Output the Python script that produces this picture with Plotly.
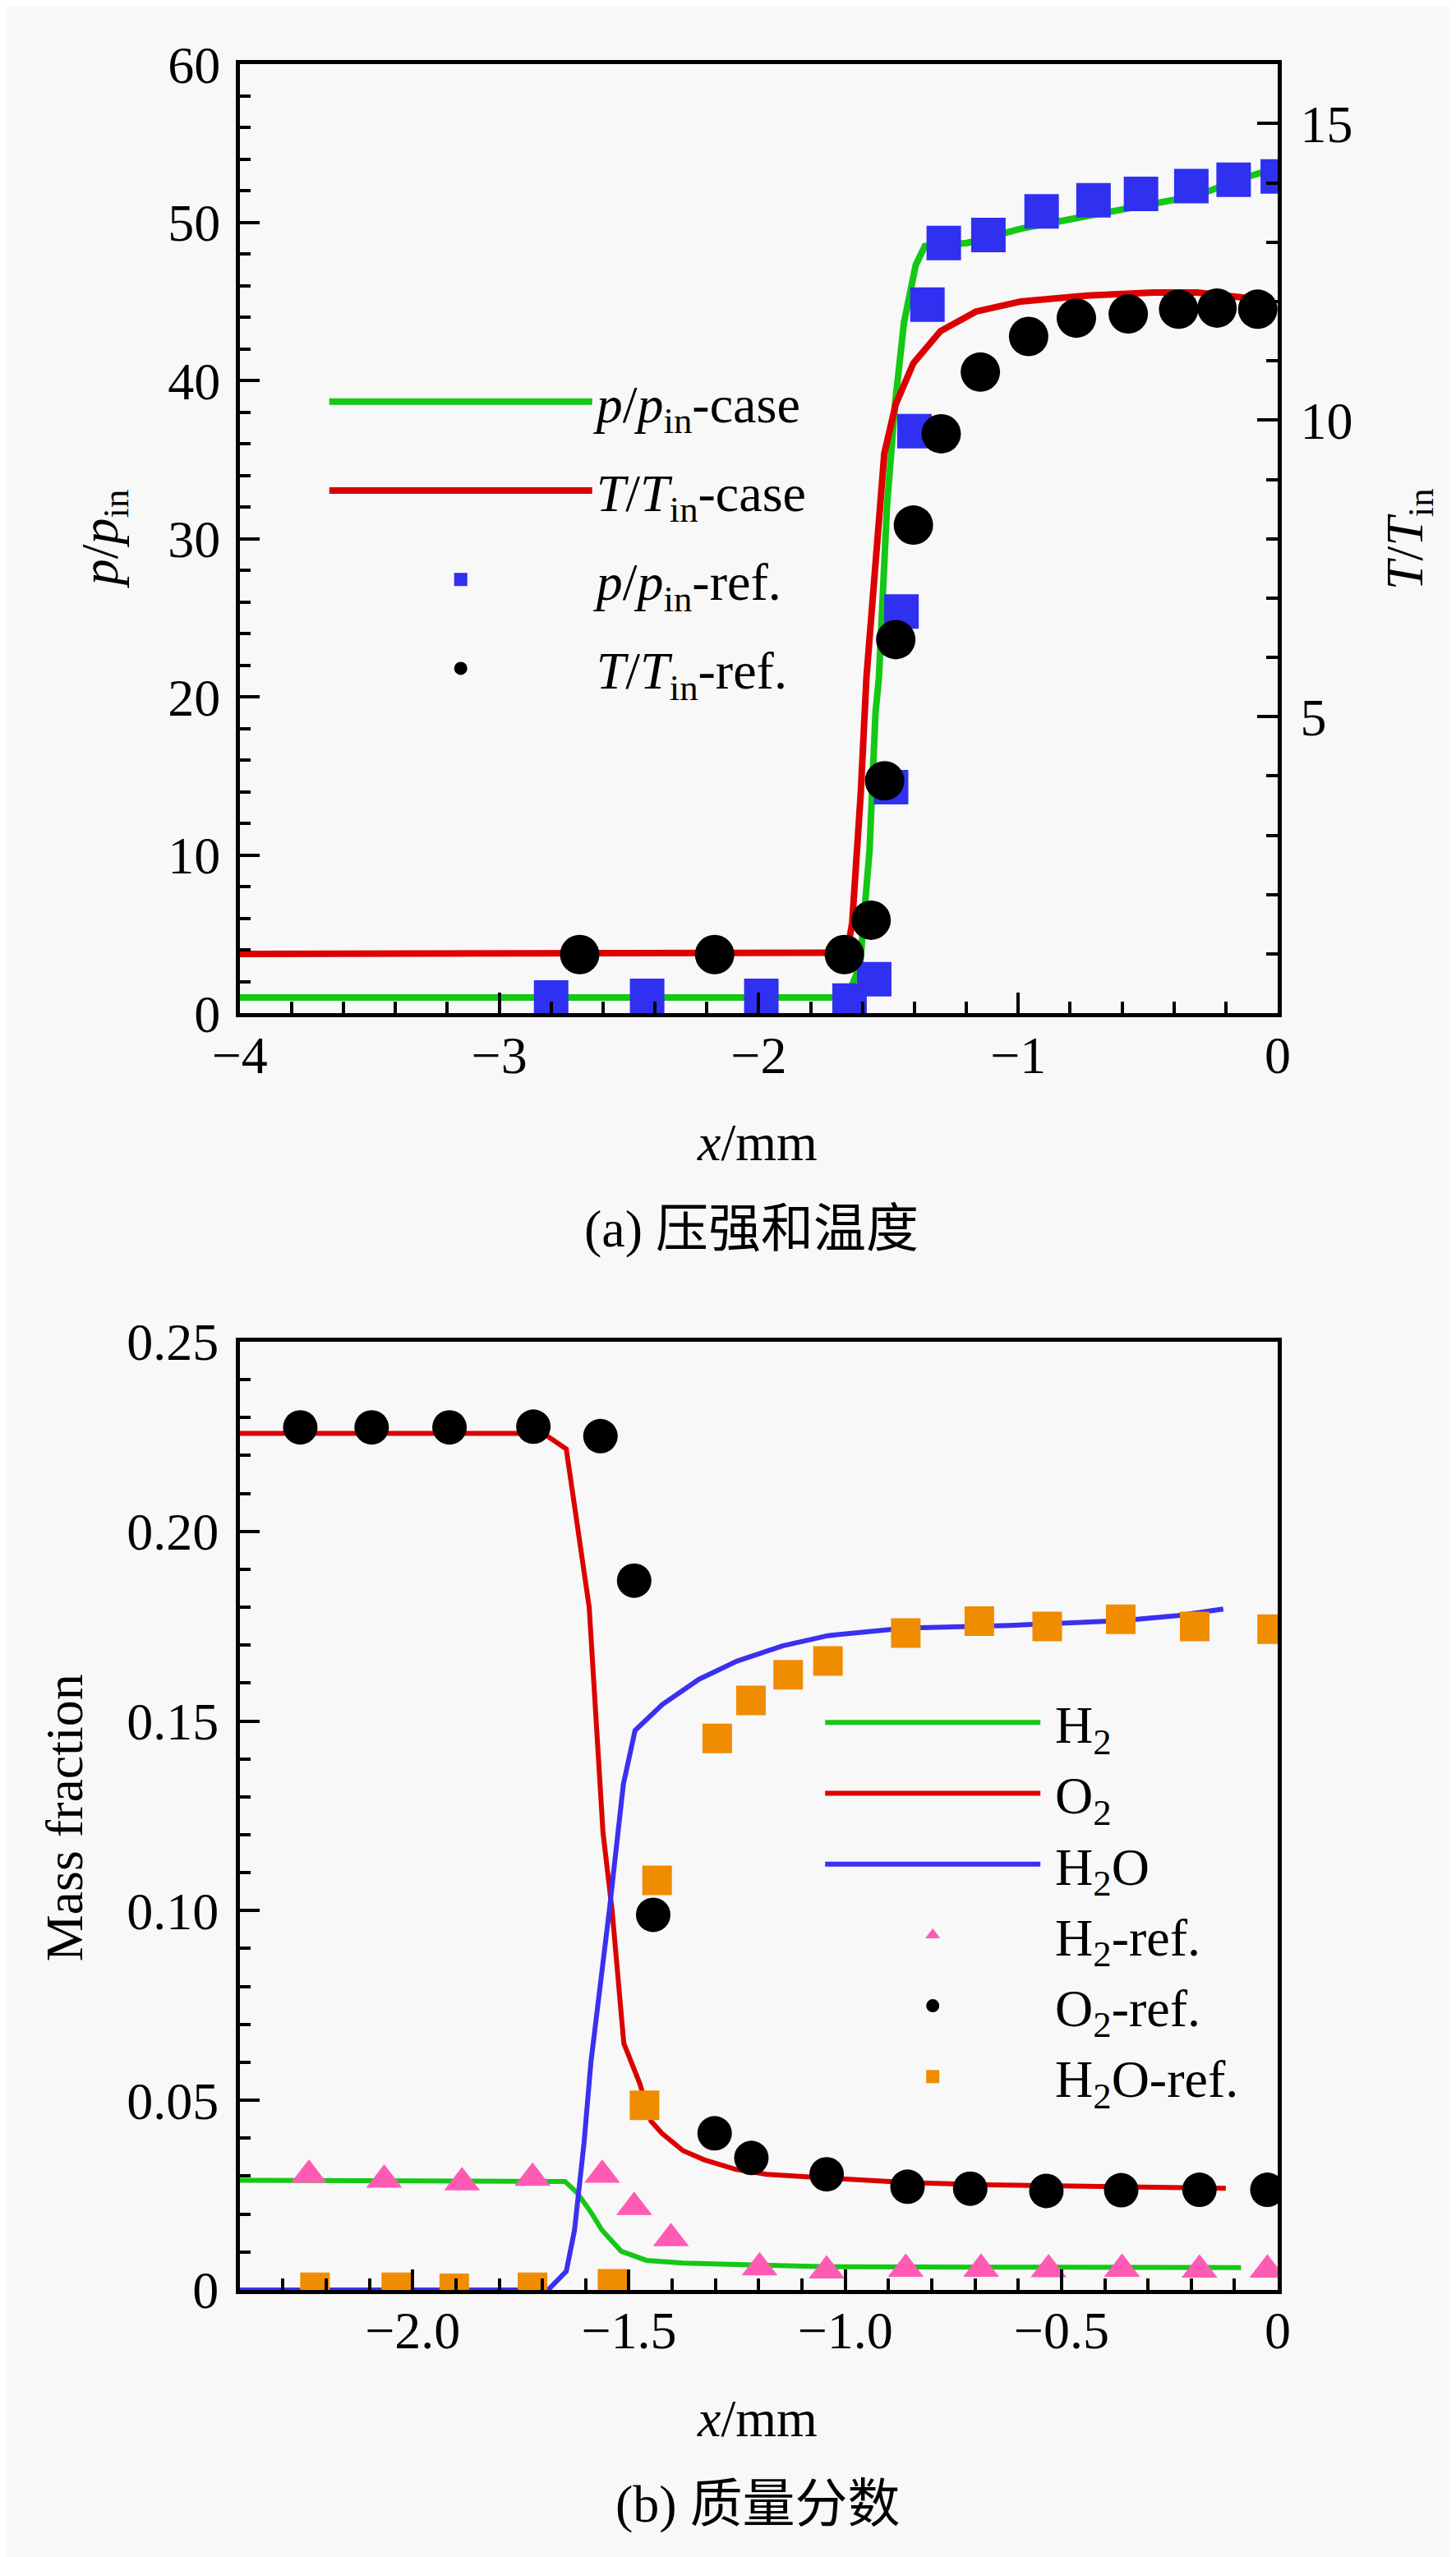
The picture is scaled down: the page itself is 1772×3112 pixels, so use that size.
import plotly.graph_objects as go

# ---- (a) pressure / temperature ----
x_p_case = [-4.0, -1.70, -1.65, -1.61, -1.573, -1.55, -1.537, -1.506, -1.475, -1.44, -1.395,
            -1.36, -1.197, -0.99, -0.736, -0.48, -0.31, -0.135, -0.03]
p_case = [1.0, 1.0, 1.4, 3.0, 10.3, 19.0, 21.2, 32.0, 38.5, 43.7, 47.3,
          48.5, 48.7, 49.6, 50.4, 51.2, 51.7, 52.8, 53.3]

x_t_case = [-4.0, -1.66, -1.64, -1.607, -1.585, -1.55, -1.516, -1.472, -1.404, -1.30,
            -1.163, -0.99, -0.736, -0.48, -0.31, -0.10]
t_case = [1.0, 1.02, 1.52, 3.7, 5.66, 7.5, 9.44, 10.27, 10.96, 11.5,
          11.83, 12.0, 12.1, 12.15, 12.15, 12.05]

x_p_ref = [-2.80, -2.43, -1.99, -1.65, -1.555, -1.49, -1.45, -1.40, -1.35, -1.287,
           -1.115, -0.91, -0.71, -0.527, -0.333, -0.17, 0.0]
p_ref = [1.0, 1.1, 1.1, 0.8, 2.15, 14.3, 25.4, 36.8, 44.8, 48.7,
         49.2, 50.7, 51.4, 51.8, 52.3, 52.7, 52.9]

x_t_ref = [-2.69, -2.17, -1.67, -1.567, -1.515, -1.472, -1.404, -1.297, -1.146, -0.96,
           -0.776, -0.576, -0.382, -0.234, -0.077]
t_ref = [0.99, 0.99, 0.99, 1.57, 3.92, 6.3, 8.23, 9.77, 10.81, 11.41,
         11.72, 11.79, 11.87, 11.89, 11.87]

# ---- (b) mass fractions ----
x_h2 = [-2.4, -1.684, -1.648, -1.62, -1.588, -1.562, -1.518, -1.46, -1.375, -1.217,
        -1.038, -0.677, -0.085]
y_h2 = [0.0289, 0.0289, 0.0286, 0.0256, 0.0205, 0.0157, 0.0102, 0.0078, 0.0071, 0.0066,
        0.0061, 0.0060, 0.0059]

x_o2 = [-2.4, -1.698, -1.645, -1.608, -1.592, -1.56, -1.539, -1.512, -1.475, -1.449,
        -1.424, -1.375, -1.326, -1.254, -1.182, -1.043, -0.857, -0.677, -0.268, -0.12]
y_o2 = [0.2258, 0.2258, 0.2217, 0.1935, 0.18, 0.1205, 0.100, 0.065, 0.0544, 0.0445,
        0.0413, 0.0367, 0.0343, 0.0318, 0.0305, 0.0295, 0.0283, 0.0277, 0.0272, 0.0268]

x_h2o = [-2.4, -1.687, -1.645, -1.626, -1.604, -1.588, -1.545, -1.513, -1.486, -1.423,
         -1.338, -1.25, -1.145, -1.04, -0.862, -0.62, -0.357, -0.231, -0.126]
y_h2o = [0.0, 0.0, 0.0049, 0.0157, 0.0387, 0.060, 0.1005, 0.1333, 0.1475, 0.1543,
         0.161, 0.1658, 0.1698, 0.1725, 0.1745, 0.1752, 0.1765, 0.1778, 0.1795]

x_h2_ref = [-2.24, -2.066, -1.886, -1.723, -1.562, -1.488, -1.403, -1.198, -1.043, -0.86,
            -0.686, -0.53, -0.36, -0.181, -0.024]
y_h2_ref = [0.0303, 0.029, 0.0283, 0.0295, 0.0303, 0.0218, 0.0136, 0.0059, 0.0051, 0.0055,
            0.0055, 0.0054, 0.0055, 0.0053, 0.0053]

x_o2_ref = [-2.26, -2.095, -1.915, -1.721, -1.566, -1.488, -1.444, -1.302, -1.217, -1.043,
            -0.856, -0.711, -0.535, -0.362, -0.181, -0.024]
y_o2_ref = [0.2274, 0.2274, 0.2274, 0.2276, 0.2251, 0.187, 0.0989, 0.0413, 0.0348, 0.0305,
            0.0272, 0.0267, 0.0261, 0.0263, 0.0264, 0.0264]

x_h2o_ref = [-2.226, -2.038, -1.904, -1.723, -1.538, -1.464, -1.435, -1.296, -1.218, -1.132,
             -1.04, -0.86, -0.69, -0.533, -0.363, -0.192, -0.013]
y_h2o_ref = [0.0007, 0.0007, 0.0004, 0.0007, 0.0016, 0.0487, 0.108, 0.1454, 0.1554, 0.1622,
             0.1658, 0.1732, 0.1763, 0.1749, 0.1768, 0.1749, 0.1742]

W, H = 1772, 3112
SERIF = "Liberation Serif, Times New Roman, serif"
CJK = "Liberation Serif, Noto Sans CJK SC, serif"
FS = 64

GREEN = "#14C814"
RED = "#DC0000"
BLUE_LINE = "#3A30F0"
BLUE_SQ = "#3030F0"
PINK = "#FF5BB5"
ORANGE = "#F08C00"


def px_x(v):
    return v / W


def px_y(v):
    return 1 - v / H


fig = go.Figure()

# top plot
fig.add_trace(go.Scatter(x=x_p_case, y=p_case, mode="lines", name="<i>p</i>/<i>p</i><sub>in</sub>-case",
                         line=dict(color=GREEN, width=8), xaxis="x", yaxis="y",
                         legend="legend", legendgroup="a1"))
fig.add_trace(go.Scatter(x=x_t_case, y=t_case, mode="lines", name="<i>T</i>/<i>T</i><sub>in</sub>-case",
                         line=dict(color=RED, width=8), xaxis="x", yaxis="y2",
                         legend="legend", legendgroup="a2"))
fig.add_trace(go.Scatter(x=x_p_ref, y=p_ref, mode="markers", name="<i>p</i>/<i>p</i><sub>in</sub>-ref.",
                         marker=dict(color=BLUE_SQ, symbol="square", size=42), xaxis="x", yaxis="y",
                         legend="legend", legendgroup="a3"))
fig.add_trace(go.Scatter(x=x_t_ref, y=t_ref, mode="markers", name="<i>T</i>/<i>T</i><sub>in</sub>-ref.",
                         marker=dict(color="black", symbol="circle", size=48), xaxis="x", yaxis="y2",
                         legend="legend", legendgroup="a4"))

# bottom plot
sp = "\u2009"
fig.add_trace(go.Scatter(x=x_h2, y=y_h2, mode="lines", name=sp + "H<sub>2</sub>",
                         line=dict(color=GREEN, width=6), xaxis="x3", yaxis="y3", legend="legend2"))
fig.add_trace(go.Scatter(x=x_o2, y=y_o2, mode="lines", name=sp + "O<sub>2</sub>",
                         line=dict(color=RED, width=6), xaxis="x3", yaxis="y3", legend="legend2"))
fig.add_trace(go.Scatter(x=x_h2o, y=y_h2o, mode="lines", name=sp + "H<sub>2</sub>O",
                         line=dict(color=BLUE_LINE, width=6), xaxis="x3", yaxis="y3", legend="legend2"))
fig.add_trace(go.Scatter(x=x_h2_ref, y=y_h2_ref, mode="markers", name=sp + "H<sub>2</sub>-ref.",
                         marker=dict(color=PINK, symbol="triangle-up", size=38), xaxis="x3", yaxis="y3",
                         legend="legend2"))
fig.add_trace(go.Scatter(x=x_o2_ref, y=y_o2_ref, mode="markers", name=sp + "O<sub>2</sub>-ref.",
                         marker=dict(color="black", symbol="circle", size=42), xaxis="x3", yaxis="y3",
                         legend="legend2"))
fig.add_trace(go.Scatter(x=x_h2o_ref, y=y_h2o_ref, mode="markers", name=sp + "H<sub>2</sub>O-ref.",
                         marker=dict(color=ORANGE, symbol="square", size=36), xaxis="x3", yaxis="y3",
                         legend="legend2"))

dom_x = [px_x(257), px_x(1557)]
dom_top = [px_y(1218), px_y(36)]
dom_bot = [px_y(2808), px_y(1627)]

common = dict(showline=True, linecolor="black", linewidth=4.5, ticks="inside", ticklen=25,
              tickwidth=4, tickcolor="black", showgrid=False, zeroline=False,
              tickfont=dict(family=SERIF, size=FS, color="black"))
minor_style = dict(ticklen=14, tickwidth=4, ticks="inside", tickcolor="black")

fig.update_layout(
    width=W, height=H,
    margin=dict(l=0, r=0, t=0, b=0),
    paper_bgcolor="#F8F8F8", plot_bgcolor="#F8F8F8",
    font=dict(family=SERIF, size=FS, color="black"),
    showlegend=True,
    xaxis=dict(domain=dom_x, anchor="y", range=[-4, 0], dtick=1, mirror=True,
               ticklabelstandoff=-9, minor=dict(dtick=0.2, **minor_style), **common),
    yaxis=dict(domain=dom_top, anchor="x", range=[0, 60], dtick=10, ticklabelstandoff=6,
               minor=dict(dtick=2, **minor_style), **common),
    yaxis2=dict(overlaying="y", side="right", anchor="x", range=[0, 16],
                tickvals=[5, 10, 15], ticklabelstandoff=10,
                minor=dict(dtick=1, **minor_style), **common),
    xaxis3=dict(domain=dom_x, anchor="y3", range=[-2.4, 0], mirror=True,
                tickvals=[-2.0, -1.5, -1.0, -0.5, 0],
                ticktext=["\u22122.0", "\u22121.5", "\u22121.0", "\u22120.5", "0"],
                ticklabelstandoff=-10, minor=dict(dtick=0.1, **minor_style), **common),
    yaxis3=dict(domain=dom_bot, anchor="x3", range=[0, 0.25], mirror=True,
                tickvals=[0, 0.05, 0.10, 0.15, 0.20, 0.25],
                ticktext=["0", "0.05", "0.10", "0.15", "0.20", "0.25"],
                ticklabelstandoff=8, minor=dict(dtick=0.01, **minor_style), **common),
    legend=dict(x=px_x(364), y=px_y(407), xanchor="left", yanchor="top",
                bgcolor="rgba(0,0,0,0)", borderwidth=0, itemwidth=320,
                traceorder="grouped", tracegroupgap=22,
                font=dict(family=SERIF, size=FS, color="black")),
    legend2=dict(x=px_x(985), y=px_y(2052), xanchor="left", yanchor="top",
                 bgcolor="rgba(0,0,0,0)", borderwidth=0, itemwidth=262,
                 font=dict(family=SERIF, size=FS, color="black")),
)

ann = dict(showarrow=False, xref="paper", yref="paper", font=dict(family=SERIF, size=FS, color="black"))
fig.add_annotation(text="<i>x</i>/mm", x=px_x(905), y=px_y(1379), xanchor="center", yanchor="middle", **ann)
fig.add_annotation(text="(a) 压强和温度", x=px_x(898), y=px_y(1486), xanchor="center", yanchor="middle",
                   showarrow=False, xref="paper", yref="paper",
                   font=dict(family=CJK, size=FS, color="black"))
fig.add_annotation(text="<i>p</i>/<i>p</i><sub>in</sub>", x=px_x(86), y=px_y(627), textangle=-90,
                   xanchor="center", yanchor="middle", **ann)
fig.add_annotation(text="<i>T</i>/<i>T</i><sub>in</sub>", x=px_x(1720), y=px_y(627), textangle=-90,
                   xanchor="center", yanchor="middle", **ann)
fig.add_annotation(text="<i>x</i>/mm", x=px_x(905), y=px_y(2968), xanchor="center", yanchor="middle", **ann)
fig.add_annotation(text="(b) 质量分数", x=px_x(906), y=px_y(3075), xanchor="center", yanchor="middle",
                   showarrow=False, xref="paper", yref="paper",
                   font=dict(family=CJK, size=FS, color="black"))
fig.add_annotation(text="Mass fraction", x=px_x(37), y=px_y(2220), textangle=-90,
                   xanchor="center", yanchor="middle", **ann)

fig.write_html("out.html")
